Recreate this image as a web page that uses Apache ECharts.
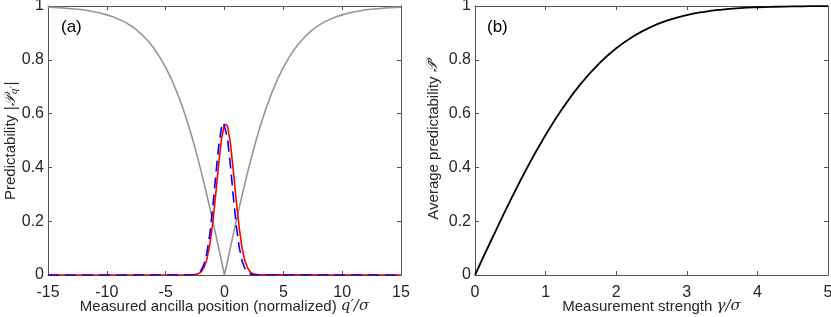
<!DOCTYPE html>
<html>
<head>
<meta charset="utf-8">
<script src="https://cdn.jsdelivr.net/npm/echarts@6/dist/echarts.min.js"></script>
<style>
html,body{margin:0;padding:0;background:#fff;}
#c{width:831px;height:317px;}
</style>
</head>
<body>
<div id="c"></div>
<script>
// ---- Panel (a) data ----
const grayQ = [-15,-14,-13,-12,-11,-10.5,-10,-9.5,-9,-8.5,-8,-7.5,-7,-6.5,-6,-5.5,-5,-4.5,-4,-3.5,-3,-2.5,-2,-1.5,-1,-0.5,0,0.5,1,1.5,2,2.5,3,3.5,4,4.5,5,5.5,6,6.5,7,7.5,8,8.5,9,9.5,10,10.5,11,12,13,14,15];
const grayP = [0.996,0.994,0.990,0.986,0.978,0.973,0.967,0.960,0.951,0.941,0.928,0.912,0.893,0.870,0.843,0.810,0.772,0.727,0.675,0.615,0.548,0.472,0.388,0.298,0.202,0.102,0,0.102,0.202,0.298,0.388,0.472,0.548,0.615,0.675,0.727,0.772,0.810,0.843,0.870,0.893,0.912,0.928,0.941,0.951,0.960,0.967,0.973,0.978,0.986,0.990,0.994,0.996];

const redQ = [-15,-3,-2.5,-2.25,-2,-1.75,-1.5,-1.25,-1,-0.75,-0.5,-0.25,0,0.1,0.25,0.5,0.75,1,1.25,1.5,1.75,2,2.25,2.5,3,15];
const redP = [0,0.0001,0.0014,0.0042,0.0112,0.027,0.058,0.112,0.193,0.298,0.411,0.508,0.561,0.566,0.555,0.491,0.389,0.275,0.175,0.099,0.050,0.023,0.0093,0.0034,0.0003,0];

const blueQ = [-15,-3,-2.5,-2.25,-2,-1.75,-1.5,-1.25,-1,-0.75,-0.5,-0.25,-0.08,0,0.25,0.5,0.75,1,1.25,1.5,1.75,2,2.25,2.5,3,15];
const blueP = [0,0.0002,0.002,0.006,0.0162,0.0384,0.081,0.151,0.250,0.367,0.477,0.550,0.566,0.5625,0.509,0.409,0.291,0.184,0.103,0.051,0.0224,0.0087,0.003,0.0009,0.0001,0];

// ---- Panel (b) data ----
const gammaS = [0,0.25,0.5,0.75,1,1.25,1.5,1.75,2,2.25,2.5,2.75,3,3.25,3.5,3.75,4,4.25,4.5,4.75,5];
const avgP = [0,0.1403,0.2763,0.4041,0.5205,0.6232,0.7112,0.7840,0.8427,0.8884,0.9229,0.9481,0.9661,0.9785,0.9867,0.9920,0.9953,0.9973,0.9985,0.9992,0.9996];

// ---- Ticks ----
const xTicksA = {min:-15, max:15, interval:5};
const xTicksB = {min:0, max:5, interval:1};
const yTicks = {min:0, max:1, interval:0.2};

const zip = (a,b) => a.map((v,i)=>[v,b[i]]);

const FONT = 'Liberation Sans, Arial, Helvetica, sans-serif';
const TXT = '#262626';
const AX = '#555555';
const TICKFS = 16;
const NAMEFS = 15;

function xAx(grid, t, secondary, nameRich) {
  const o = {
    type:'value', gridIndex:grid, min:t.min, max:t.max, interval:t.interval,
    position: secondary ? 'top' : 'bottom',
    axisLine:{show:true, onZero:false, lineStyle:{color:AX, width:1}},
    axisTick:{show:true, inside:true, length:4, lineStyle:{color:AX, width:1}},
    axisLabel:{show:!secondary, color:TXT, fontSize:TICKFS, fontFamily:FONT, margin:10,
      formatter: v => String(v)},
    splitLine:{show:false}
  };
  if (!secondary && nameRich) {
    o.name = nameRich.text; o.nameLocation='middle'; o.nameGap=24; o.nameMoveOverlap=false;
    o.nameTextStyle = {color:TXT, fontSize:NAMEFS, fontFamily:FONT, rich:nameRich.rich};
  }
  return o;
}
function yAx(grid, secondary, nameRich, gap) {
  const o = {
    type:'value', gridIndex:grid, min:yTicks.min, max:yTicks.max, interval:yTicks.interval,
    position: secondary ? 'right' : 'left',
    axisLine:{show:true, onZero:false, lineStyle:{color:AX, width:1}},
    axisTick:{show:true, inside:true, length:4, lineStyle:{color:AX, width:1}},
    axisLabel:{show:!secondary, color:TXT, fontSize:TICKFS, fontFamily:FONT, margin:4,
      formatter: v => String(Math.round(v*10)/10)},
    splitLine:{show:false}
  };
  if (!secondary && nameRich) {
    o.name = nameRich.text; o.nameLocation='middle'; o.nameGap=gap; o.nameRotate=90; o.nameMoveOverlap=false;
    o.nameTextStyle = {color:TXT, fontSize:NAMEFS, fontFamily:FONT, rich:nameRich.rich};
  }
  return o;
}

const mathStyle = {fontFamily:'DejaVu Serif, Liberation Serif, serif', fontStyle:'italic', fontSize:NAMEFS, color:TXT};
const subStyle = {fontFamily:'DejaVu Serif, Liberation Serif, serif', fontStyle:'italic', fontSize:10, color:TXT, verticalAlign:'bottom', padding:[6,0,0,0]};
const plainStyle = {fontFamily:FONT, fontSize:NAMEFS, color:TXT};

const option = {
  animation:false,
  backgroundColor:'#ffffff',
  title:[
    {text:'(a)', left:56, top:14, textStyle:{fontFamily:FONT, fontSize:17, fontWeight:'normal', color:'#000'}},
    {text:'(b)', left:482, top:14, textStyle:{fontFamily:FONT, fontSize:17, fontWeight:'normal', color:'#000'}}
  ],
  grid:[
    {left:48, top:6, width:353, height:269, outerBoundsMode:'none', containLabel:false},
    {left:475, top:6, width:353, height:269, outerBoundsMode:'none', containLabel:false}
  ],
  xAxis:[
    xAx(0, xTicksA, false, {text:'{p|Measured ancilla position (normalized) }{m|q′/σ}', rich:{p:plainStyle, m:mathStyle}}),
    xAx(0, xTicksA, true),
    xAx(1, xTicksB, false, {text:'{p|Measurement strength }{m|γ/σ}', rich:{p:plainStyle, m:mathStyle}}),
    xAx(1, xTicksB, true)
  ],
  yAxis:[
    yAx(0, false, {text:'{p|Predictability }{m||𝒫}{s|q′}{m||}', rich:{p:plainStyle, m:mathStyle, s:subStyle}}, 29),
    yAx(0, true),
    yAx(1, false, {text:'{p|Average predictability }{m|𝒫̄}', rich:{p:plainStyle, m:mathStyle}}, 34),
    yAx(1, true)
  ],
  series:[
    {type:'line', xAxisIndex:0, yAxisIndex:0, data:zip(grayQ, grayP), showSymbol:false,
      lineStyle:{color:'#959595', width:1.6}, z:2},
    {type:'line', xAxisIndex:0, yAxisIndex:0, data:zip(redQ, redP), showSymbol:false,
      lineStyle:{color:'#ff0000', width:1.6}, z:3},
    {type:'line', xAxisIndex:0, yAxisIndex:0, data:zip(blueQ, blueP), showSymbol:false,
      lineStyle:{color:'#0000ff', width:1.6, type:[11,6]}, z:4},
    {type:'line', xAxisIndex:2, yAxisIndex:2, data:zip(gammaS, avgP), showSymbol:false, smooth:true,
      lineStyle:{color:'#000000', width:1.8}, z:3}
  ]
};

const chart = echarts.init(document.getElementById('c'), null, {renderer:'canvas'});
chart.setOption(option);
</script>
</body>
</html>
